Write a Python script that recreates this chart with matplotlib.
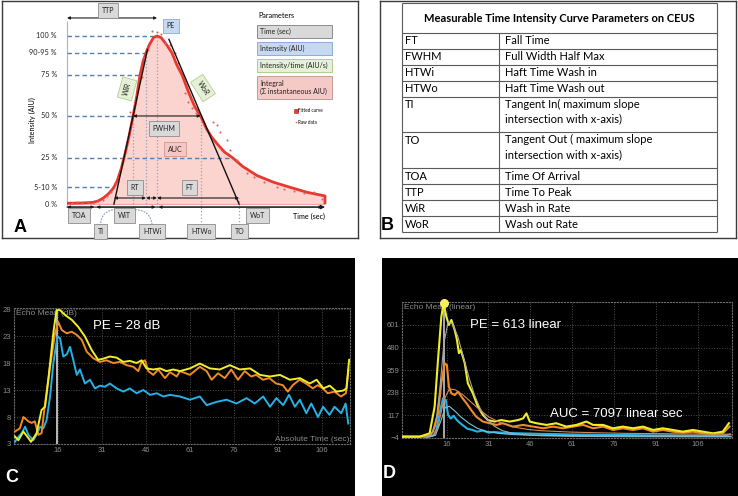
import numpy as np
import matplotlib
matplotlib.use('Agg')
import matplotlib.pyplot as plt
from matplotlib.patches import Rectangle

plt.rcParams['font.family'] = ['Liberation Sans', 'DejaVu Sans']
LATO = ['Lato', 'DejaVu Sans']

# ---------------- Panel A data (schematic time-intensity curve) ----------------
fit_t = [0, 5, 10, 12, 14, 16, 18, 19.5, 21, 22.5, 24, 25.6, 27, 28.3, 29.5, 30.6, 32, 33.5,
         34.9, 36.5, 38.5, 40.7, 42.5, 44.6, 47, 49.5, 51.8, 54, 56, 58.1, 61, 64.3, 68, 73.6,
         80, 86.4, 93, 100]
fit_y = [0.5, 0.6, 1.0, 1.8, 3.5, 6.0, 9.5, 14, 21, 30, 40, 52.4, 64, 76.8, 85, 89.9, 95, 99,
         100, 99, 95, 89.9, 83, 76.8, 67, 58, 52.4, 45, 40, 36, 31, 27.4, 22.5, 17, 13, 10, 7, 4.8]
raw_t = [2, 4, 6, 8, 10, 12, 14, 15.5, 17, 19, 21, 23, 24.4, 26.5, 29, 30, 31.3, 33, 34.7, 36.6,
         38, 40, 41.9, 43, 45.7, 47, 48.5, 50, 53, 56.6, 58.1, 59.3, 62, 63.2, 65.9, 69.8, 72.4,
         76.2, 81.4, 84, 87.9, 91.8, 95.7, 99]
raw_y = [0.8, 1.2, 0.6, 1.3, 0.9, 1.6, 2.5, 4.5, 7, 12, 22, 34, 55, 60, 75.8, 87, 91.7, 103,
         102.6, 101, 96, 94.6, 90, 84, 66, 61, 57, 54, 48, 48.8, 47, 43, 38, 32, 26, 18.5, 16,
         13, 10, 9, 7.5, 6.5, 7, 3]
level_labels = ['100 %', '90-95 %', '75 %', '50 %', '25 %', '5-10 %', '0 %']
level_y = [100, 89.9, 76.8, 52.4, 27.4, 10.1, 0]
ti_time = 18.2          # tangent in intersection
to_time = 66.7          # tangent out intersection
toa_time = 11.0         # time of arrival
wir_top = (31.2, 92)    # upper point of wash-in tangent
wor_top = (39.5, 98)    # upper point of wash-out tangent
param_names = ['Time (sec)', 'Intensity (AIU)', 'Intensity/time (AIU/s)',
               'Integral\n(\u03a3 instantaneous AIU)']
param_colors = [('#d9d9d9', '#8c8c8c'), ('#c6d9f1', '#8eaadb'),
                ('#e6f0d6', '#b3cf8f'), ('#f4c9c6', '#c99a96')]

# ---------------- Panel B data ----------------
b_title = 'Measurable Time Intensity Curve Parameters on CEUS'
b_abbr = ['FT', 'FWHM', 'HTWi', 'HTWo', 'TI', 'TO', 'TOA', 'TTP', 'WiR', 'WoR']
b_desc = ['Fall Time', 'Full Width Half Max', 'Haft Time Wash in', 'Haft Time Wash out',
          'Tangent In( maximum slope\nintersection with x-axis)',
          'Tangent Out ( maximum slope\nintersection with x-axis)',
          'Time Of Arrival', 'Time To Peak', 'Wash in Rate', 'Wash out Rate']

# ---------------- Panel C data (Echo Mean dB) ----------------
c_xticks = [16, 31, 46, 61, 76, 91, 106]
c_yticks = [3, 8, 13, 18, 23, 28]
c_yel_t = [1.3, 2.5, 4.2, 5.9, 6.8, 8.7, 10.4, 11.6, 12.7, 14.4, 15.5, 16.7, 18.4, 20.7, 22.9,
           25.2, 27.5, 29.7, 31.4, 33.7, 36.0, 38.3, 40.5, 42.8, 44.5, 46.2, 48.5, 50.8, 53.0,
           55.3, 57.6, 61.0, 64.4, 67.8, 71.2, 74.6, 78.0, 81.5, 84.9, 88.3, 91.7, 95.1, 98.5,
           101.9, 104.2, 106.5, 108.7, 111.0, 113.3, 114.4, 115.3]
c_yel = [4.4, 3.7, 5.3, 4.1, 3.4, 5.0, 9.3, 9.9, 14.9, 23.5, 27.8, 27.8, 26.9, 26.0, 24.7, 22.9,
         20.4, 18.6, 18.8, 19.2, 19.0, 18.2, 18.4, 18.0, 18.5, 17.0, 16.8, 17.0, 16.5, 16.8, 16.5,
         17.0, 17.9, 17.0, 16.8, 17.6, 16.8, 17.0, 15.8, 15.5, 15.8, 14.9, 15.2, 14.2, 14.9, 13.3,
         13.8, 12.7, 12.9, 13.3, 18.6]
c_org_t = [1.3, 3.0, 4.2, 5.9, 7.0, 8.1, 9.3, 10.4, 11.6, 13.3, 15.0, 16.1, 17.3, 19.0, 20.7,
           22.4, 24.1, 25.8, 28.0, 30.3, 32.5, 34.9, 37.1, 39.4, 41.7, 43.4, 44.5, 45.7, 46.8,
           48.5, 50.2, 52.5, 54.2, 56.5, 57.6, 61.0, 64.4, 66.7, 68.4, 70.6, 72.9, 75.1, 77.4,
           79.7, 81.9, 83.6, 85.9, 88.1, 90.4, 92.7, 94.4, 96.1, 98.4, 100.6, 102.9, 104.6,
           106.3, 108.0, 110.3, 112.5, 114.2, 115.1]
c_org = [5.3, 5.9, 8.0, 7.2, 6.9, 7.2, 4.7, 5.0, 10.5, 17.3, 23.5, 25.6, 24.1, 23.5, 23.8, 23.2,
         22.3, 20.1, 18.9, 18.2, 18.5, 18.0, 18.2, 17.6, 17.3, 16.5, 18.2, 18.5, 16.5, 15.8, 16.8,
         15.2, 16.3, 15.5, 16.5, 15.8, 17.3, 16.5, 14.9, 16.1, 15.2, 16.8, 14.9, 16.5, 15.5, 15.8,
         14.9, 15.2, 14.2, 13.9, 12.7, 13.9, 14.9, 14.2, 13.3, 13.9, 13.3, 12.4, 12.7, 11.8, 12.4,
         16.8]
c_blu_t = [1.3, 2.5, 3.6, 4.8, 5.9, 7.6, 8.7, 9.9, 11.0, 12.1, 13.3, 14.4, 15.8, 16.7, 17.8,
           19.0, 20.1, 21.2, 22.4, 23.5, 25.2, 26.9, 28.6, 30.3, 32.0, 33.7, 36.0, 38.3, 40.5,
           42.8, 45.1, 47.4, 49.7, 51.9, 54.2, 57.6, 61.0, 64.4, 66.7, 70.1, 73.5, 76.9, 80.3,
           83.1, 86.0, 88.3, 90.5, 92.8, 94.8, 96.8, 98.5, 100.7, 102.4, 104.7, 106.4, 108.6,
           110.3, 112.6, 114.1, 115.0]
c_blu = [3.4, 4.3, 5.0, 6.2, 4.7, 3.7, 4.7, 6.2, 5.9, 7.4, 11.8, 17.9, 22.9, 22.6, 19.2, 19.6,
         21.0, 18.6, 15.8, 16.8, 14.2, 14.9, 13.3, 13.8, 13.6, 14.2, 13.3, 12.7, 13.3, 12.4, 13.0,
         12.1, 12.4, 11.8, 12.1, 11.8, 11.2, 11.8, 10.2, 10.8, 11.2, 10.5, 11.5, 10.5, 11.8, 9.9,
         11.5, 10.2, 12.1, 9.9, 11.2, 8.7, 10.5, 8.0, 9.9, 8.4, 9.9, 8.7, 10.5, 6.8]

# ---------------- Panel D data (Echo Mean linear) ----------------
d_xticks = [16, 31, 46, 61, 76, 91, 106]
d_yticks = [-4, 117, 238, 359, 480, 601]
d_yel_t = [0.3, 6.3, 9.9, 11.7, 12.9, 14.1, 14.9, 15.9, 16.8, 17.7, 18.9, 19.7, 20.4, 21.1,
           22.5, 23.6, 25.4, 27.2, 29.0, 30.8, 33.2, 35.6, 38.6, 41.6, 43.4, 44.6, 45.8, 48.2,
           51.8, 55.3, 58.9, 62.5, 66.1, 68.5, 72.1, 75.6, 79.2, 82.8, 86.4, 90.0, 93.5, 97.1,
           100.7, 104.3, 107.9, 111.5, 115.0, 117.2]
d_yel = [3, 3, 21, 164, 413, 645, 717, 645, 601, 628, 574, 521, 450, 467, 396, 289, 235, 164,
         119, 92, 84, 92, 84, 92, 101, 128, 84, 75, 66, 75, 57, 66, 84, 66, 66, 48, 57, 48, 57,
         39, 48, 39, 30, 39, 30, 21, 30, 75]
d_org_t = [0.3, 6.3, 9.9, 11.1, 12.9, 14.1, 15.3, 16.1, 16.8, 17.7, 18.9, 20.1, 21.3, 23.1,
           24.8, 26.6, 29.0, 31.4, 33.8, 36.2, 39.7, 43.4, 47.0, 50.6, 54.1, 57.7, 61.3, 64.9,
           68.5, 72.1, 75.6, 79.2, 82.8, 86.4, 90.0, 93.5, 97.1, 100.7, 104.3, 107.9, 111.5,
           115.0, 117.4]
d_org = [3, 3, 8, 30, 128, 289, 396, 387, 271, 235, 226, 244, 217, 182, 146, 110, 84, 75, 66,
         75, 57, 66, 57, 48, 57, 48, 57, 66, 48, 57, 39, 48, 39, 48, 30, 39, 30, 25, 30, 21, 18,
         21, 57]
d_blu_t = [0.3, 6.0, 10.0, 11.5, 12.3, 13.5, 14.7, 15.7, 16.5, 17.5, 18.5, 19.5, 20.5, 22.0,
           23.5, 25.0, 27.0, 29.0, 31.0, 33.0, 36.0, 40.0, 45.0, 50.0, 55.0, 60.0, 65.0, 70.0,
           75.0, 80.0, 85.0, 90.0, 95.0, 100.0, 105.0, 110.0, 115.0, 117.5]
d_blu = [4, 4, 5, 12, 39, 128, 209, 200, 120, 100, 115, 95, 80, 62, 45, 40, 30, 36, 25, 28, 24,
         22, 20, 18, 17, 15, 14, 13, 12, 12, 11, 10, 10, 9, 9, 8, 8, 15]
d_fit_yel_t = [8, 10, 12, 13.5, 15, 16.5, 18, 20, 22, 24, 26, 28, 30, 33, 36, 40, 45, 50, 60, 80, 118]
d_fit_yel = [0, 5, 60, 250, 500, 615, 610, 540, 430, 320, 225, 155, 105, 60, 35, 20, 12, 8, 5, 3, 2]
d_fit_org_t = [8, 11, 13, 15, 17, 19, 22, 25, 28, 31, 35, 40, 45, 50, 60, 70, 80, 100, 118]
d_fit_org = [0, 5, 60, 200, 258, 255, 225, 185, 145, 110, 80, 55, 42, 35, 28, 24, 21, 18, 16]
d_fit_blu_t = [9, 12, 14, 15.5, 17, 19, 21, 24, 27, 30, 35, 40, 50, 70, 118]
d_fit_blu = [0, 10, 90, 160, 165, 140, 110, 75, 48, 32, 20, 14, 10, 7, 5]

YEL, ORG, BLU = '#f0ee2a', '#f08a26', '#22b2e6'

W, H = 738, 496
fig = plt.figure(figsize=(W / 100, H / 100), dpi=100)
fig.patch.set_facecolor('white')


def px_axes(x0, y0, x1, y1):
    return fig.add_axes([x0 / W, 1 - y1 / H, (x1 - x0) / W, (y1 - y0) / H])


def bare(ax, fc='white', edge=None, lw=1.0):
    ax.set_xticks([])
    ax.set_yticks([])
    ax.set_facecolor(fc)
    for s in ax.spines.values():
        if edge is None:
            s.set_visible(False)
        else:
            s.set_color(edge)
            s.set_linewidth(lw)


# =============================== Panel A ===============================
axA = px_axes(2, 1, 358, 238)
axA.set_xlim(-25.2, 112.8)
axA.set_ylim(-20.2, 120.8)
bare(axA, edge='#3a3a3a', lw=1.0)

ft = np.array(fit_t, float)
fy = np.array(fit_y, float)
ipk = int(np.argmax(fy))
ttp = ft[ipk]
rise_t, rise_y = ft[:ipk + 1], fy[:ipk + 1]
fall_t, fall_y = ft[ipk:][::-1], fy[ipk:][::-1]

axA.fill_between(ft, fy, 0, color='#fbd3cf', lw=0, zorder=1)
axA.hlines(0, ft[0], ft[-1], color='#f2a49d', lw=0.8, zorder=2)
axA.plot(np.append(ft, ft[-1]), np.append(fy, 0), color='#e8392f', lw=2.0, zorder=4,
         solid_capstyle='butt')
axA.plot(raw_t, raw_y, 'o', ms=1.5, color='#e06262', mec='none', zorder=5)

# y axis line
axA.vlines(0, -1.8, 109, color='#b5b5b5', lw=0.8, zorder=2)
# dashed percentage levels
for lab, lv in zip(level_labels, level_y):
    axA.text(-3.9, lv, lab, ha='right', va='center', fontsize=5.2, family=LATO, color='#222')
    if lv <= 0:
        continue
    if lab == '25 %':
        xe = np.interp(lv, fall_y, fall_t)
    else:
        xe = np.interp(lv, rise_y, rise_t)
    axA.plot([0, xe], [lv, lv], ls=(0, (3.2, 2.2)), color='#5b7db1', lw=1.0, zorder=3)

half_in = np.interp(level_y[3], rise_y, rise_t)
half_out = np.interp(level_y[3], fall_y, fall_t)
t90_in = np.interp(level_y[1], rise_y, rise_t)

# vertical dotted guides
vc = '#8da3c4'
axA.vlines(half_in, -1.8, level_y[3], colors=vc, linestyles=':', lw=0.9, zorder=3)
axA.vlines(t90_in, -1.8, level_y[1], colors=vc, linestyles=':', lw=0.9, zorder=3)
axA.vlines(ttp, -1.8, 100, colors=vc, linestyles=':', lw=0.9, zorder=3)
axA.vlines(half_out, -12.5, level_y[3], colors=vc, linestyles=':', lw=0.9, zorder=3)
axA.vlines(to_time, -12.5, 3.6, colors=vc, linestyles=':', lw=0.9, zorder=3)

# tangents
axA.plot([ti_time, wir_top[0]], [0, wir_top[1]], color='#111', lw=1.0, zorder=5)
axA.plot([wor_top[0], to_time], [wor_top[1], 0], color='#111', lw=1.0, zorder=5)


def darrow(x0, x1, y, ls='-', style='<|-|>', ms=4):
    axA.annotate('', xy=(x1, y), xytext=(x0, y),
                 arrowprops=dict(arrowstyle=style, color='#1a1a1a', lw=0.8,
                                 mutation_scale=ms, shrinkA=0, shrinkB=0, linestyle=ls),
                 zorder=6)


darrow(0, ttp, 110.7)
darrow(half_in, half_out, level_y[3])
darrow(ti_time, t90_in, 3.6)
darrow(t90_in, ttp, 3.6, ls=(0, (2, 1.5)))
darrow(ttp, to_time, 3.6)
# time axis
axA.annotate('', xy=(100, -1.8), xytext=(0, -1.8),
             arrowprops=dict(arrowstyle='-|>', color='#1a1a1a', lw=0.8, mutation_scale=6,
                             shrinkA=0, shrinkB=0), zorder=6)
darrow(0, toa_time - 0.4, -1.8)
darrow(toa_time + 0.4, ttp - 0.6, -1.8)
darrow(ttp + 0.6, 99, -1.8)


def gbox(x, y, s, fc='#d9d9d9', ec='#8c8c8c', rot=0, fs=5.0):
    axA.text(x, y, s, ha='center', va='center', fontsize=fs, family=LATO, rotation=rot,
             color='#222', bbox=dict(boxstyle='square,pad=0.55', fc=fc, ec=ec, lw=0.6),
             zorder=7)


gbox(15.9, 115.3, 'TTP')
gbox(40.3, 106, 'PE', fc='#c6d9f1', ec='#8eaadb')
gbox(37.6, 45, 'FWHM')
gbox(41.9, 32.7, 'AUC', fc='#f4c7c3', ec='#c99a96')
gbox(26.2, 9.8, 'RT')
gbox(47.5, 9.8, 'FT')
gbox(4.8, -6.8, 'TOA')
gbox(22.3, -6.8, 'WiT')
gbox(74.0, -6.8, 'WoT')
gbox(13.0, -16.3, 'TI')
gbox(33.0, -16.3, 'HTWi')
gbox(52.0, -16.3, 'HTWo')
gbox(66.9, -16.3, 'TO')
gbox(23.3, 68.5, 'WiR', fc='#e6f0d6', ec='#b3cf8f', rot=75)
gbox(52.7, 69.0, 'WoR', fc='#e6f0d6', ec='#b3cf8f', rot=-57)

# dotted arcs around WiT
for (xa, ya, xb, yb, rad) in [(13.0, -12.8, 18.6, -3.2, -0.45), (26.5, -3.4, 33.0, -12.8, -0.45)]:
    axA.annotate('', xy=(xb, yb), xytext=(xa, ya),
                 arrowprops=dict(arrowstyle='-', color=vc, lw=0.8, linestyle=':',
                                 connectionstyle=f'arc3,rad={rad}', shrinkA=0, shrinkB=0))

axA.text(93.8, -7.5, 'Time (sec)', ha='center', va='center', fontsize=5.2, family=LATO)
axA.text(-13.6, 50, 'Intensity (AIU)', ha='center', va='center', rotation=90,
         fontsize=5.2, family=LATO)

# parameter legend boxes
axA.text(74.2, 112.0, 'Parameters', ha='left', va='center', fontsize=5.2, family=LATO)
box_y = [(98.8, 106.5), (88.7, 96.4), (78.6, 86.3), (62.5, 76.2)]
for name, (fcol, ecol), (y0, y1) in zip(param_names, param_colors, box_y):
    axA.add_patch(Rectangle((73.6, y0), 29.1, y1 - y0, fc=fcol, ec=ecol, lw=0.7, zorder=6))
    axA.text(74.8, (y0 + y1) / 2, name, ha='left', va='center', fontsize=5.0,
             family=LATO, zorder=7, linespacing=1.15, color='#222')
axA.plot([88.6], [55.4], 's', ms=2.6, color='#e8392f', mec='#b02020', mew=0.4)
axA.text(89.6, 55.4, 'Fitted curve', fontsize=3.3, family=LATO, va='center')
axA.plot([88.6], [48.8], 'o', ms=1.2, color='#e06262', mec='none')
axA.text(89.6, 48.8, 'Raw data', fontsize=3.3, family=LATO, va='center')

fig.text(20 / W, 1 - 227 / H, 'A', fontsize=13, fontweight='bold', ha='center', va='center')

# =============================== Panel B ===============================
axB = px_axes(380, 1, 736, 238)
axB.set_xlim(380, 736)
axB.set_ylim(238, 1)
bare(axB, edge='#3a3a3a', lw=1.0)
tl, tm, tr, ttop = 402, 499, 717, 3
header_h, single_h, extra_h = 30, 16, 19.5
lc = '#5a5a5a'
y = ttop
axB.text((tl + tr) / 2, y + header_h / 2, b_title, ha='center', va='center', fontsize=8,
         fontweight='bold', family=LATO)
axB.hlines(y, tl, tr, colors=lc, lw=0.8)
y += header_h
axB.hlines(y, tl, tr, colors=lc, lw=0.8)
ystart = y
for ab, de in zip(b_abbr, b_desc):
    n = de.count('\n') + 1
    h = single_h + (n - 1) * extra_h
    if n == 1:
        axB.text(tl + 3, y + h / 2, ab, ha='left', va='center', fontsize=8, family=LATO)
        axB.text(tm + 6, y + h / 2, de, ha='left', va='center', fontsize=8, family=LATO)
    else:
        axB.text(tl + 3, y + single_h / 2, ab, ha='left', va='center', fontsize=8, family=LATO)
        axB.text(tm + 6, y + 1.5, de, ha='left', va='top', fontsize=8, family=LATO,
                 linespacing=1.45)
    y += h
    axB.hlines(y, tl, tr, colors=lc, lw=0.8)
axB.vlines([tl, tr], ttop, y, colors=lc, lw=0.8)
axB.vlines(tm, ystart, y, colors=lc, lw=0.8)
fig.text(387 / W, 1 - 226 / H, 'B', fontsize=13, fontweight='bold', ha='center', va='center')

# =============================== Panel C ===============================
GRID = '#4c4c4c'
TICK = '#8c8c8c'


def style_dark(ax, xt, yt):
    ax.set_facecolor('black')
    ax.set_xticks(xt)
    ax.set_yticks(yt)
    ax.tick_params(colors=TICK, labelsize=5.5, length=0, pad=2)
    ax.grid(True, color=GRID, ls=':', lw=0.7)
    for s in ax.spines.values():
        s.set_color('#6a6a6a')
        s.set_linestyle(':')
        s.set_linewidth(0.8)


bgC = px_axes(0, 258, 355, 496)
bare(bgC, fc='black')
axC = px_axes(14, 308, 350, 444)
axC.set_xlim(1, 115.6)
axC.set_ylim(3, 28.19)
style_dark(axC, c_xticks, c_yticks)
axC.text(0.005, 0.985, 'Echo Mean (dB)', transform=axC.transAxes, ha='left', va='top',
         fontsize=6, color='#8a8a8a', zorder=1)
axC.text(0.997, 0.01, 'Absolute Time (sec)', transform=axC.transAxes, ha='right',
         va='bottom', fontsize=6, color='#8a8a8a', zorder=1)
c_peak_t = c_yel_t[int(np.argmax(c_yel))]
axC.vlines(c_peak_t, 3, max(c_yel), color='#c8c8c8', lw=1.3, zorder=2)
axC.plot(c_blu_t, c_blu, color=BLU, lw=1.4, zorder=3)
axC.plot(c_org_t, c_org, color=ORG, lw=1.4, zorder=4)
axC.plot(c_yel_t, c_yel, color=YEL, lw=1.4, zorder=5)
axC.text(0.235, 0.87, 'PE = 28 dB', transform=axC.transAxes, ha='left', va='center',
         fontsize=9.5, color='white', zorder=6)
fig.text(12 / W, 1 - 478 / H, 'C', fontsize=13, fontweight='bold', color='white',
         ha='center', va='center')

# =============================== Panel D ===============================
bgD = px_axes(382, 258, 738, 496)
bare(bgD, fc='black')
axD = px_axes(402, 302, 732, 438)
axD.set_xlim(0, 118.3)
axD.set_ylim(-4, 724)
style_dark(axD, d_xticks, d_yticks)
axD.text(0.005, 0.985, 'Echo Mean (linear)', transform=axD.transAxes, ha='left', va='top',
         fontsize=6, color='#8a8a8a', zorder=1)
d_peak_i = int(np.argmax(d_yel))
axD.vlines(d_yel_t[d_peak_i], -4, 724, color='#c8c8c8', lw=1.2, zorder=2)
axD.plot(d_blu_t, d_blu, color=BLU, lw=1.5, zorder=3)
axD.plot(d_org_t, d_org, color=ORG, lw=1.5, zorder=4)
axD.plot(d_yel_t, d_yel, color=YEL, lw=1.5, zorder=5)
axD.plot(d_fit_yel_t, d_fit_yel, color='#a8a8a8', lw=0.8, zorder=6)
axD.plot(d_fit_org_t, d_fit_org, color='#d28a52', lw=0.8, zorder=6)
axD.plot(d_fit_blu_t, d_fit_blu, color='#7cc0de', lw=0.8, zorder=6)
axD.plot([d_yel_t[d_peak_i]], [d_yel[d_peak_i]], 'o', ms=5.5, color='#f5f060',
         mec='#f5f060', zorder=7, clip_on=False)
axD.text(0.205, 0.83, 'PE = 613 linear', transform=axD.transAxes, ha='left', va='center',
         fontsize=9.5, color='white', zorder=8)
axD.text(0.45, 0.18, 'AUC = 7097 linear sec', transform=axD.transAxes, ha='left',
         va='center', fontsize=9.5, color='white', zorder=8)
fig.text(389 / W, 1 - 474 / H, 'D', fontsize=13, fontweight='bold', color='white',
         ha='center', va='center')

fig.savefig('out.png', dpi=100, facecolor='white')
